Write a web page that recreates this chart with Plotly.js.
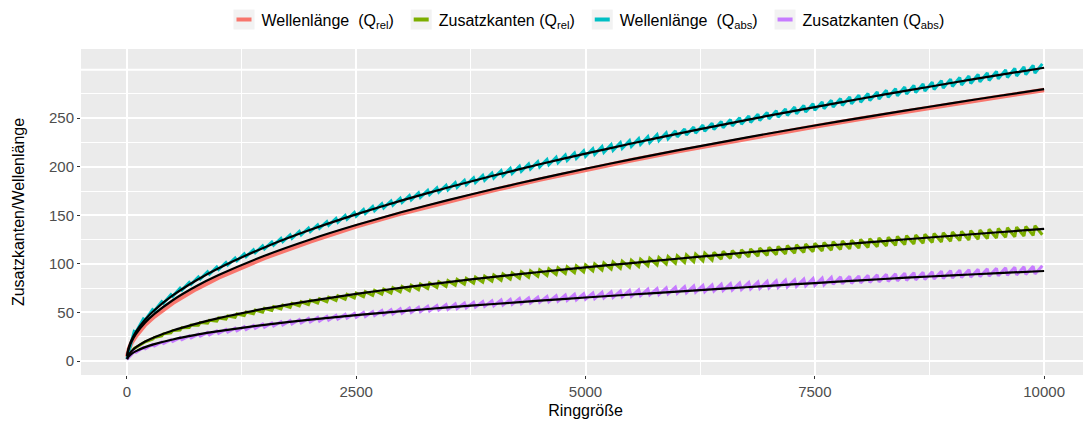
<!DOCTYPE html>
<html>
<head>
<meta charset="utf-8">
<script src="https://cdn.plot.ly/plotly-3.0.1.min.js"></script>
<style>
html,body{margin:0;padding:0;overflow:hidden;background:#fff;}
#chart{width:1090px;height:421px;}
</style>
</head>
<body>
<div id="chart"></div>
<script>
// ---- data ----
const seriesNames = ["Wellenlänge\u00A0\u00A0(Q<sub>rel</sub>)", "Zusatzkanten (Q<sub>rel</sub>)", "Wellenlänge\u00A0\u00A0(Q<sub>abs</sub>)", "Zusatzkanten (Q<sub>abs</sub>)"];
const seriesColors = ["#F8766D", "#7CAE00", "#00BFC4", "#C77CFF"];

// x grid of the fitted curves and the red series
const fit_x = [3,10,25,50,100,200,300,500,750,1000,1500,2000,2500,3000,3500,4000,4500,5000,5500,6000,6500,7000,7500,8000,8500,9000,9500,10000];
const fit_wl_rel = [4.8,8.9,14,19.8,28,39.6,48.5,62.6,76.7,88.5,108.4,125.2,140,153.4,165.7,177.1,187.8,198,207.7,216.9,225.7,234.3,242.5,250.4,258.1,265.6,272.9,280];
const fit_zk_rel = [2.4,4.6,7.2,10.1,14.2,20,24.4,31.4,38.3,44.2,53.9,62,69.1,75.5,81.3,86.7,91.7,96.4,100.9,105.3,109.6,113.8,117.8,121.6,125.4,129,132.6,136];
const fit_wl_abs = [5.2,9.5,15.1,21.4,30.2,42.7,52.3,67.5,82.7,95.5,117,135.1,151,165.4,178.7,191,202.6,213.5,224,233.9,243.5,252.7,261.5,270.1,278.4,286.5,294.4,302];
const fit_zk_abs = [1.8,3.4,5.2,7.3,10.2,14.3,17.4,22.2,26.9,30.8,37.3,42.6,47.3,51.4,55.2,58.7,62.1,65.4,68.5,71.5,74.5,77.4,80.3,83.1,85.8,88.2,90.5,92.7];

// red series (Wellenlänge, Q_rel) on the fit grid
const wl_rel = [4.5,8.4,13.2,18.8,26,37.5,46,59.8,74,86,106.2,123.3,138.6,152.2,164.6,176,186.8,197,206.7,215.9,224.7,233.3,241.5,249.4,257.1,264.6,271.9,279];

// ring sizes of the saw-tooth series
const ring_x = [0,80,100,180,200,280,300,380,400,480,500,580,600,680,700,780,800,880,900,980,
1000,1080,1100,1180,1200,1280,1300,1380,1400,1480,1500,1580,1600,1680,1700,1780,1800,1880,1900,1980,
2000,2080,2100,2180,2200,2280,2300,2380,2400,2480,2500,2580,2600,2680,2700,2780,2800,2880,2900,2980,
3000,3080,3100,3180,3200,3280,3300,3380,3400,3480,3500,3580,3600,3680,3700,3780,3800,3880,3900,3980,
4000,4080,4100,4180,4200,4280,4300,4380,4400,4480,4500,4580,4600,4680,4700,4780,4800,4880,4900,4980,
5000,5080,5100,5180,5200,5280,5300,5380,5400,5480,5500,5580,5600,5680,5700,5780,5800,5880,5900,5980,
6000,6080,6100,6180,6200,6280,6300,6380,6400,6480,6500,6580,6600,6680,6700,6780,6800,6880,6900,6980,
7000,7080,7100,7180,7200,7280,7300,7380,7400,7480,7500,7580,7600,7680,7700,7780,7800,7880,7900,7980,
8000,8080,8100,8180,8200,8280,8300,8380,8400,8480,8500,8580,8600,8680,8700,8780,8800,8880,8900,8980,
9000,9080,9100,9180,9200,9280,9300,9380,9400,9480,9500,9580,9600,9680,9700,9780,9800,9880,9900,9980];

const zk_rel = [2,13,14,18.4,19.8,22.5,24.2,26,28,29.1,31.3,31.8,34.3,34.4,37.0,36.8,39.6,39,42,41.1,
44.3,43.1,46.4,45.0,48.5,46.9,50.5,48.6,52.4,50.3,54.2,52,56,53.6,57.7,55.2,59.4,56.7,61.0,58.1,
62.6,59.6,64.2,61.0,65.7,62.3,67.1,63.7,68.6,65,70,66.3,71.4,67.5,72.7,68.8,74.1,70.0,75.4,71.2,
76.7,72.4,78.0,73.5,79.2,74.7,80.4,75.8,81.6,76.9,82.8,78,84,79.1,85.2,80.1,86.3,81.2,87.4,82.2,
88.6,83.2,89.6,84.3,90.7,85.2,91.8,86.2,92.9,87.2,93.9,88.2,94.9,89.1,96.0,90.1,97.0,91,98,91.9,
99.0,92.8,100.0,93.7,101.0,94.6,101.9,95.5,102.9,96.4,103.8,97.3,104.8,98.2,105.7,99.0,106.6,99.9,107.5,100.7,
108.4,101.5,109.3,102.4,110.2,103.2,111.1,104,112,104.8,112.9,105.6,113.7,106.4,114.6,107.2,115.4,108.0,116.3,108.8,
117.1,109.5,118.0,110.3,118.8,111.1,119.6,111.8,120.4,112.6,121.2,113.3,122.1,114.1,122.9,114.8,123.6,115.5,124.4,116.3,
125.2,117,126,117.7,126.8,118.4,127.5,119.1,128.3,119.9,129.1,120.6,129.8,121.3,130.6,122.0,131.3,122.6,132.1,123.3,
132.8,124.0,133.5,124.7,134.3,125.4,135.0,126.0,135.7,126.7,136.5,127.4,137.2,128.0,137.9,128.7,138.6,129.4,139.3,130];

const wl_abs = [2,30.6,29.8,43.3,42.1,53.0,51.6,61.2,59.6,68.4,66.6,74.9,73.0,81.0,78.9,86.5,84.3,91.8,89.4,96.8,
94.2,101.5,98.8,106.0,103.2,110.3,107.5,114.5,111.5,118.5,115.4,122.4,119.2,126.2,122.9,129.8,126.4,133.4,129.9,136.8,
133.3,140.2,136.6,143.5,139.8,146.8,142.9,149.9,146.0,153,149,156.0,152.0,159.0,154.8,161.9,157.7,164.8,160.5,167.6,
163.2,170.4,165.9,173.1,168.6,175.8,171.2,178.4,173.8,181.0,176.3,183.6,178.8,186.1,181.3,188.6,183.7,191.1,186.1,193.5,
188.5,195.9,190.8,198.3,193.1,200.6,195.4,203.0,197.7,205.3,199.9,207.5,202.1,209.8,204.3,212.0,206.5,214.2,208.6,216.4,
210.7,218.5,212.8,220.7,214.9,222.8,216.9,224.9,219.0,226.9,221.0,229.0,223.0,231.0,225.0,233.1,227.0,235.0,228.9,237.0,
230.8,239.0,232.7,240.9,234.6,242.9,236.5,244.8,238.4,246.7,240.2,248.6,242.1,250.5,243.9,252.3,245.7,254.2,247.6,256.0,
249.3,257.8,251.1,259.6,252.9,261.5,254.6,263.2,256.3,265.0,258.1,266.8,259.8,268.5,261.5,270.3,263.2,272.0,264.9,273.7,
266.5,275.4,268.2,277.1,269.8,278.8,271.5,280.5,273.1,282.1,274.8,283.8,276.4,285.4,277.9,287.1,279.6,288.7,281.1,290.3,
282.7,291.9,284.3,293.5,285.8,295.1,287.4,296.7,288.9,298.3,290.5,299.8,292.0,301.4,293.5,302.9,295.0,304.5,296.5,306];

const zk_abs = [1.5,9.8,9,13.9,12.7,17.0,15.6,19.6,18,21.9,20.1,24.0,22.0,25.9,23.8,27.7,25.5,29.4,27,31.0,
28.5,32.5,29.9,33.9,31.2,35.3,32.5,36.7,33.7,38.0,34.9,39.2,36,40.4,37.1,41.6,38.2,42.7,39.2,43.8,
40.2,44.9,41.2,46.0,42.2,47.0,43.2,48.0,44.1,49,45,50.0,45.9,50.9,46.8,51.9,47.6,52.8,48.5,53.7,
49.3,54.6,50.1,55.4,50.9,56.3,51.7,57.1,52.5,58.0,53.2,58.8,54,59.6,54.7,60.4,55.5,61.2,56.2,62.0,
56.9,62.8,57.6,63.5,58.3,64.3,59.0,65.0,59.7,65.7,60.4,66.5,61.0,67.2,61.7,67.9,62.4,68.6,63,69.3,
63.6,70.0,64.3,70.7,64.9,71.3,65.5,72.0,66.1,72.7,66.7,73.3,67.3,74.0,68.0,74.6,68.5,75.3,69.1,75.9,
69.7,76.5,70.3,77.2,70.9,77.8,71.4,78.4,72,79.0,72.6,79.6,73.1,80.2,73.7,80.8,74.2,81.4,74.8,82.0,
75.3,82.6,75.8,83.2,76.4,83.7,76.9,84.3,77.4,84.9,77.9,85.4,78.5,86.0,79.0,86.6,79.5,87.1,80.0,87.6,
80.5,88.2,81,88.7,81.5,89.3,82.0,89.8,82.5,90.4,83.0,90.9,83.5,91.4,83.9,91.9,84.4,92.5,84.9,93.0,
85.4,93.5,85.9,94.0,86.3,94.5,86.8,95.0,87.3,95.5,87.7,96.0,88.2,96.5,88.6,97.0,89.1,97.5,89.6,98];

const xTicks = [0, 2500, 5000, 7500, 10000];
const yTicks = [0, 50, 100, 150, 200, 250];

// ---- traces ----
const FONT = "Liberation Sans, Arial, sans-serif";
const traces = [
  {x: fit_x, y: wl_rel, name: seriesNames[0], mode: "lines", line: {color: seriesColors[0], width: 4.5}},
  {x: ring_x, y: zk_rel, name: seriesNames[1], mode: "lines", line: {color: seriesColors[1], width: 3}},
  {x: ring_x, y: wl_abs, name: seriesNames[2], mode: "lines", line: {color: seriesColors[2], width: 3}},
  {x: ring_x, y: zk_abs, name: seriesNames[3], mode: "lines", line: {color: seriesColors[3], width: 3}}
];
[fit_wl_rel, fit_zk_rel, fit_wl_abs, fit_zk_abs].forEach(f => {
  traces.push({x: fit_x, y: f, mode: "lines", showlegend: false, hoverinfo: "skip",
    line: {color: "#000000", width: 2.2, shape: "spline", smoothing: 0.6}});
});

const layout = {
  width: 1090, height: 421,
  margin: {l: 81, r: 0, t: 49, b: 46},
  paper_bgcolor: "#FFFFFF",
  plot_bgcolor: "#EBEBEB",
  font: {family: FONT, size: 15, color: "#000"},
  showlegend: true,
  legend: {orientation: "h", x: 0.5, xanchor: "center", y: 1.09, yanchor: "middle",
    font: {family: FONT, size: 16, color: "#000"}, itemwidth: 30, bgcolor: "rgba(0,0,0,0)"},
  xaxis: {
    range: [-500, 10500], tickmode: "array", tickvals: xTicks, ticktext: xTicks.map(String),
    showgrid: true, gridcolor: "#FFFFFF", gridwidth: 2, zeroline: false, showline: false,
    ticks: "outside", ticklen: 3, tickwidth: 1, tickcolor: "#333333",
    tickfont: {family: FONT, size: 15, color: "#4D4D4D"},
    minor: {tickmode: "linear", tick0: 0, dtick: 1250, showgrid: true, gridcolor: "#FFFFFF", gridwidth: 1, ticks: ""},
    title: {text: "Ringgröße", font: {family: FONT, size: 16, color: "#000"}, standoff: 5}
  },
  yaxis: {
    range: [-14.4, 321.3], tickmode: "array", tickvals: yTicks, ticktext: yTicks.map(String),
    showgrid: true, gridcolor: "#FFFFFF", gridwidth: 2, zeroline: false, showline: false,
    ticks: "outside", ticklen: 3, tickwidth: 1, tickcolor: "#333333",
    tickfont: {family: FONT, size: 15, color: "#4D4D4D"},
    minor: {tickmode: "linear", tick0: 0, dtick: 25, showgrid: true, gridcolor: "#FFFFFF", gridwidth: 1, ticks: ""},
    title: {text: "Zusatzkanten/Wellenlänge", font: {family: FONT, size: 16, color: "#000"}, standoff: 20}
  },
  shapes: [
    {type: "line", xref: "paper", x0: 0, x1: 1, yref: "y", y0: 300, y1: 300, layer: "below",
     line: {color: "#FFFFFF", width: 2}}
  ]
};

Plotly.newPlot("chart", traces, layout, {displayModeBar: false, staticPlot: true}).then(gd => {
  // ggplot-style legend keys: light grey square with a short thick line
  const NS = "http://www.w3.org/2000/svg";
  gd.querySelectorAll(".legend .traces").forEach(item => {
    const lines = item.querySelector(".legendlines");
    if (!lines) return;
    const rect = document.createElementNS(NS, "rect");
    rect.setAttribute("x", 12); rect.setAttribute("y", -10);
    rect.setAttribute("width", 21); rect.setAttribute("height", 20);
    rect.setAttribute("fill", "#F2F2F2");
    item.insertBefore(rect, item.firstChild);
    lines.querySelectorAll("path").forEach(p => {
      p.setAttribute("d", "M15,0h15");
      p.style.strokeWidth = "4px";
    });
  });
});
</script>
</body>
</html>
